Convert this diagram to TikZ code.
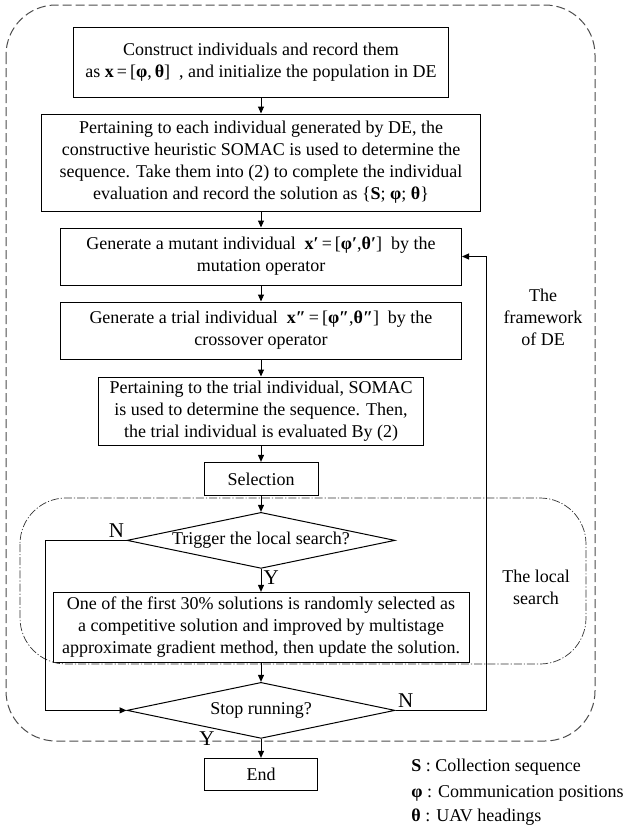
\documentclass[tikz,border=0pt]{standalone}
\usepackage{fontspec}
\setmainfont{Liberation Serif}
\usetikzlibrary{shapes.geometric,arrows.meta,positioning,calc}
\tikzset{
  process/.style={draw,line width=0.5pt,inner sep=2pt,align=center,
    font=\fontsize{9}{11}\selectfont},
  decision/.style={diamond,draw,line width=0.5pt,aspect=4.7,inner sep=0pt,
    minimum width=134pt,minimum height=28pt,font=\fontsize{9}{11}\selectfont},
  flow/.style={-{Triangle[length=3.5pt,width=3pt]},line width=0.5pt},
  yesno/.style={font=\fontsize{10.5}{12}\selectfont,inner sep=1pt},
  note/.style={align=center,inner sep=0pt,font=\fontsize{9}{11}\selectfont},
  deframe/.style={draw=black!70,line width=0.5pt,dash pattern=on 4.5pt off 2pt,rounded corners=25pt},
  lsframe/.style={draw=black!80,line width=0.35pt,dash pattern=on 4pt off 1pt on 0.6pt off 1pt,rounded corners=23pt}
}

\begin{document}
\begin{tikzpicture}[x=0.5pt,y=-0.5pt,node distance=8pt]
  \useasboundingbox (0,0) rectangle (626,830);
  \node[process,minimum width=187.5pt,minimum height=35pt] (init) at (261,62)
    {Construct individuals and record them\\as {\bfseries x}\,=\,[{\bfseries φ},\,{\bfseries θ}]\ \ , and initialize the population in DE};
  \node[process,minimum width=219.5pt,minimum height=48.5pt,below=of init] (somac)
    {Pertaining to each individual generated by DE, the\\constructive heuristic SOMAC is used to determine the\\sequence. Take them into (2) to complete the individual\\evaluation and record the solution as \{{\bfseries S}; {\bfseries φ}; {\bfseries θ}\}};
  \node[process,minimum width=200.5pt,minimum height=28.5pt,below=of somac] (mutant)
    {Generate a mutant individual\ \ {\bfseries x′}\,=\,[{\bfseries φ′},{\bfseries θ′}]\ \ by the\\mutation operator};
  \node[process,minimum width=200.5pt,minimum height=28.5pt,below=of mutant] (trial)
    {Generate a trial individual\ \ {\bfseries x″}\,=\,[{\bfseries φ″},{\bfseries θ″}]\ \ by the\\crossover operator};
  \node[process,minimum width=162.5pt,minimum height=34pt,below=8.5pt of trial] (evaluate)
    {Pertaining to the trial individual, SOMAC\\is used to determine the sequence. Then,\\the trial individual is evaluated By (2)};
  \node[process,minimum width=57pt,minimum height=16.5pt,below=of evaluate] (select) {Selection};
  \node[decision,below=of select] (trigger) {Trigger the local search?};
  \node[process,minimum width=208pt,minimum height=35pt,below=11.5pt of trigger] (local)
    {One of the first 30\% solutions is randomly selected as\\a competitive solution and improved by multistage\\approximate gradient method, then update the solution.};
  \node[decision,below=9.5pt of local] (stop) {Stop running?};
  \node[process,minimum width=56.5pt,minimum height=16pt,below=9.5pt of stop] (finish) {End};
  % frames
  \draw[deframe] (6,5) rectangle (595,741);
  \draw[lsframe] (20,498) rectangle (586,664);
  \node[note] (deLabel) at (543,317) {The\\framework\\of DE};
  \node[note] (lsLabel) at (536,587) {The local\\search};
  % legend
  \node[note,anchor=west] (legS) at (411,767) {{\bfseries S} : Collection sequence};
  \node[note,anchor=west] (legPhi) at (411,793) {{\bfseries φ} : Communication positions};
  \node[note,anchor=west] (legTheta) at (411,817) {{\bfseries θ} : UAV headings};
  % connectors
  \draw[flow] (init) -- (somac);
  \draw[flow] (somac) -- (mutant);
  \draw[flow] (mutant) -- (trial);
  \draw[flow] (trial) -- (evaluate);
  \draw[flow] (evaluate) -- (select);
  \draw[flow] (select) -- (trigger);
  \draw[flow] (trigger) -- node[yesno,right,pos=0.4] {Y} (local);
  \draw[flow] (trigger.west) -- node[yesno,above left,pos=0] {N} ++(-81,0) |- (stop.west);
  \draw[flow] (local) -- (stop);
  \draw[flow] (stop.east) -| node[yesno,above right,pos=0] {N} ([xshift=12pt]mutant.east) -- (mutant.east);
  \draw[flow] (stop) -- (finish);
  \node[yesno] (stopYes) at ([xshift=-27pt]stop.south) {Y};
\end{tikzpicture}
\end{document}
